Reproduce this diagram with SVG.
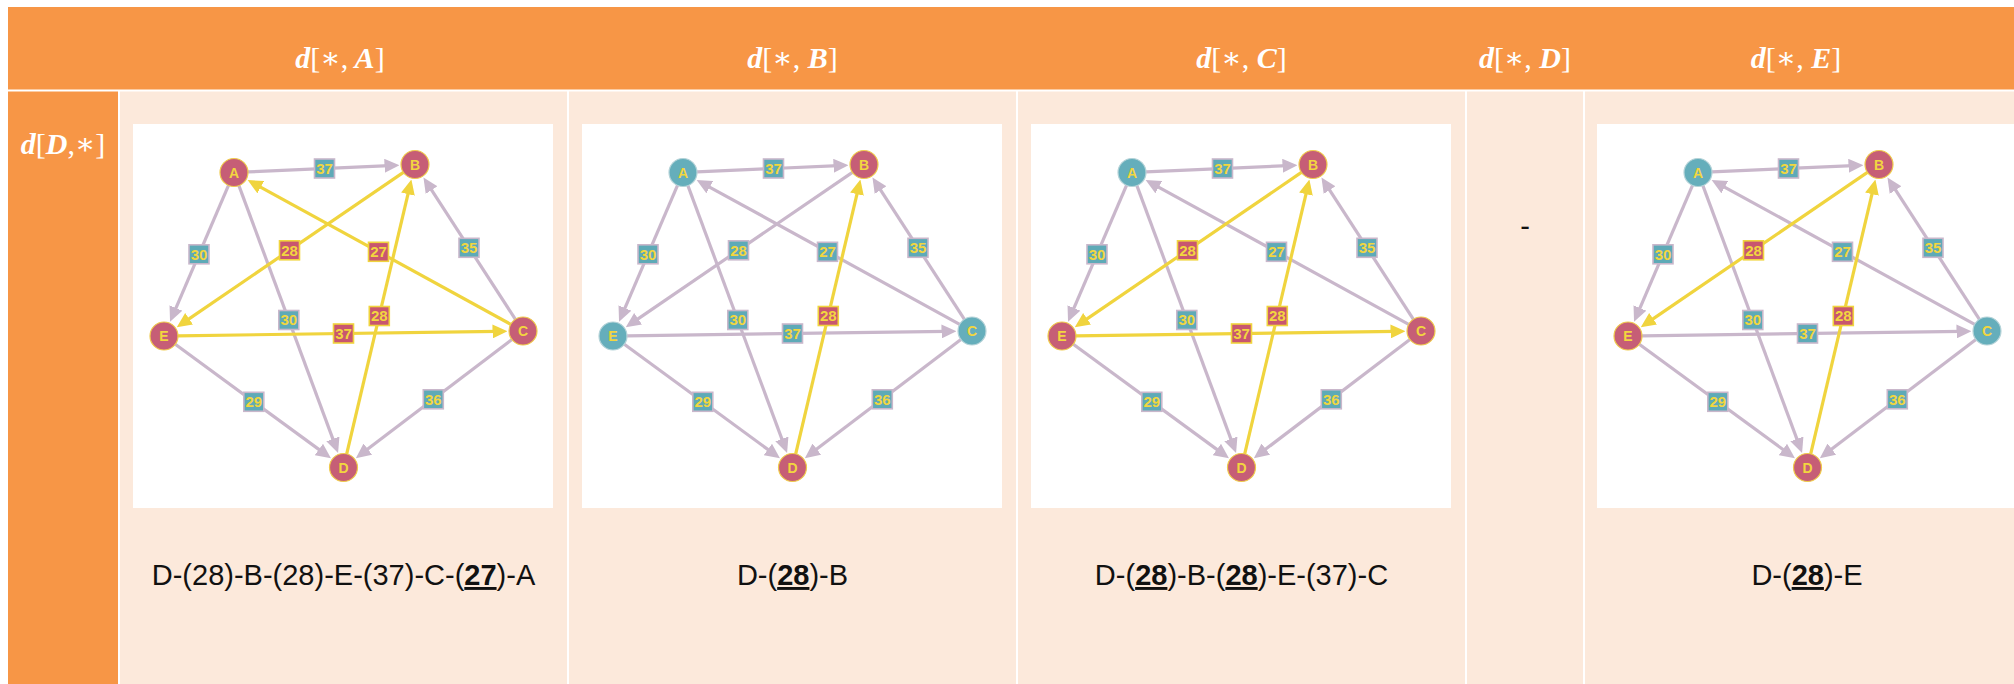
<svg xmlns="http://www.w3.org/2000/svg" width="2014" height="684" viewBox="0 0 2014 684">
<defs>
<style>
.hd{fill:#F79646}
.pc{fill:#FCE9DB}
.grid{stroke:#FFFFFF;stroke-width:2}
.mh{font-family:"Liberation Serif","DejaVu Serif",serif;font-size:30px;fill:#FFFFFF;text-anchor:middle}
.bi{font-weight:bold;font-style:italic}
.pt{font-family:"Liberation Sans",Arial,sans-serif;font-size:29px;fill:#111111;text-anchor:middle}
.ul{font-weight:bold;text-decoration:underline}
.box{fill:#FFFFFF}
.g{stroke:#C9B7CB;stroke-width:3.2;fill:none;marker-end:url(#ag)}
.y{stroke:#F0D43E;stroke-width:3.2;fill:none;marker-end:url(#ay)}
.lt{fill:#5EAAB7;stroke:#C9B7CB;stroke-width:1.6}
.lr{fill:#C8566F;stroke:#F0D43E;stroke-width:1.6}
.lx{font-family:"Liberation Sans",Arial,sans-serif;font-weight:bold;font-size:15px;fill:#F2D63F;text-anchor:middle}
.nr{fill:#C65E76;stroke:#EFCB4C;stroke-width:1.2}
.nt{fill:#65AEBB;stroke:#B5D3D8;stroke-width:1.2}
.nx{font-family:"Liberation Sans",Arial,sans-serif;font-weight:bold;font-size:14px;fill:#F2D63F;text-anchor:middle}
</style>
<marker id="ag" markerUnits="userSpaceOnUse" markerWidth="15" markerHeight="14" refX="5" refY="7" orient="auto"><path d="M0,0 L15,7 L0,14 z" fill="#C9B7CB"/></marker>
<marker id="ay" markerUnits="userSpaceOnUse" markerWidth="15" markerHeight="14" refX="5" refY="7" orient="auto"><path d="M0,0 L15,7 L0,14 z" fill="#F0D43E"/></marker>
</defs>
<rect width="2014" height="684" fill="#FFFFFF"/>
<g id="table">
<rect class="hd" x="8" y="7" width="2006" height="83"/>
<rect class="hd" x="8" y="91" width="110" height="593"/>
<rect class="pc" x="120" y="91" width="447" height="593"/>
<rect class="pc" x="569" y="91" width="447" height="593"/>
<rect class="pc" x="1018" y="91" width="447" height="593"/>
<rect class="pc" x="1467" y="91" width="116" height="593"/>
<rect class="pc" x="1585" y="91" width="429" height="593"/>
<line class="grid" x1="8" y1="90.5" x2="2014" y2="90.5"/>
</g>
<g id="headers">
<text class="mh" x="340" y="68"><tspan class="bi">d</tspan>[∗,<tspan class="bi"> A</tspan>]</text>
<text class="mh" x="792.5" y="68"><tspan class="bi">d</tspan>[∗,<tspan class="bi"> B</tspan>]</text>
<text class="mh" x="1241.5" y="68"><tspan class="bi">d</tspan>[∗,<tspan class="bi"> C</tspan>]</text>
<text class="mh" x="1525" y="68"><tspan class="bi">d</tspan>[∗,<tspan class="bi"> D</tspan>]</text>
<text class="mh" x="1796" y="68"><tspan class="bi">d</tspan>[∗,<tspan class="bi"> E</tspan>]</text>
<text class="mh" x="63" y="154"><tspan class="bi">d</tspan>[<tspan class="bi">D</tspan>,∗]</text>
</g>

<g id="cellA" transform="translate(133,124)">
<rect class="box" width="420" height="384"/>
<g id="A-connectors">
<path class="g" d="M115,47.9 L256.5,41.6"/>
<path class="g" d="M95.5,61.4 L41,188.6"/>
<path class="g" d="M105.9,61.6 L201.6,319.6"/>
<path class="g" d="M382.4,195.3 L295.9,61.9"/>
<path class="g" d="M42.3,220.3 L189.9,328.4"/>
<path class="g" d="M378.9,215.5 L230.8,328.1"/>
<path class="y" d="M270.4,48.4 L52,197.6"/>
<path class="y" d="M377.7,200.3 L123.4,60.8"/>
<path class="y" d="M213.7,329.9 L276.1,65.3"/>
<path class="y" d="M45,211.8 L364.5,207.4"/>
<rect class="lt" x="181.5" y="35" width="20" height="19"/><text class="lx" x="191.5" y="49.8">37</text>
<rect class="lt" x="56" y="120.8" width="20" height="19"/><text class="lx" x="66" y="135.6">30</text>
<rect class="lt" x="145.8" y="186.5" width="20" height="19"/><text class="lx" x="155.8" y="201.3">30</text>
<rect class="lr" x="146.5" y="116.8" width="20" height="19"/><text class="lx" x="156.5" y="131.6">28</text>
<rect class="lr" x="235.5" y="118.3" width="20" height="19"/><text class="lx" x="245.5" y="133.1">27</text>
<rect class="lt" x="326" y="114.3" width="20" height="19"/><text class="lx" x="336" y="129.1">35</text>
<rect class="lr" x="236.3" y="182.5" width="20" height="19"/><text class="lx" x="246.3" y="197.3">28</text>
<rect class="lr" x="200.5" y="200" width="20" height="19"/><text class="lx" x="210.5" y="214.8">37</text>
<rect class="lt" x="110.8" y="268.3" width="20" height="19"/><text class="lx" x="120.8" y="283.1">29</text>
<rect class="lt" x="290.3" y="265.8" width="20" height="19"/><text class="lx" x="300.3" y="280.6">36</text>
</g>
<g id="A-nodeA"><circle class="nr" cx="101" cy="48.5" r="14"/><text class="nx" x="101" y="53.5">A</text></g>
<g id="A-nodeB"><circle class="nr" cx="282" cy="40.5" r="14"/><text class="nx" x="282" y="45.5">B</text></g>
<g id="A-nodeC"><circle class="nr" cx="390" cy="207" r="14"/><text class="nx" x="390" y="212">C</text></g>
<g id="A-nodeD"><circle class="nr" cx="210.5" cy="343.5" r="14"/><text class="nx" x="210.5" y="348.5">D</text></g>
<g id="A-nodeE"><circle class="nr" cx="31" cy="212" r="14"/><text class="nx" x="31" y="217">E</text></g>
</g>

<g id="cellB" transform="translate(582,124)">
<rect class="box" width="420" height="384"/>
<g id="B-connectors">
<path class="g" d="M115,47.9 L256.5,41.6"/>
<path class="g" d="M95.5,61.4 L41,188.6"/>
<path class="g" d="M105.9,61.6 L201.6,319.6"/>
<path class="g" d="M270.4,48.4 L52,197.6"/>
<path class="g" d="M377.7,200.3 L123.4,60.8"/>
<path class="g" d="M382.4,195.3 L295.9,61.9"/>
<path class="g" d="M45,211.8 L364.5,207.4"/>
<path class="g" d="M42.3,220.3 L189.9,328.4"/>
<path class="g" d="M378.9,215.5 L230.8,328.1"/>
<path class="y" d="M213.7,329.9 L276.1,65.3"/>
<rect class="lt" x="181.5" y="35" width="20" height="19"/><text class="lx" x="191.5" y="49.8">37</text>
<rect class="lt" x="56" y="120.8" width="20" height="19"/><text class="lx" x="66" y="135.6">30</text>
<rect class="lt" x="145.8" y="186.5" width="20" height="19"/><text class="lx" x="155.8" y="201.3">30</text>
<rect class="lt" x="146.5" y="116.8" width="20" height="19"/><text class="lx" x="156.5" y="131.6">28</text>
<rect class="lt" x="235.5" y="118.3" width="20" height="19"/><text class="lx" x="245.5" y="133.1">27</text>
<rect class="lt" x="326" y="114.3" width="20" height="19"/><text class="lx" x="336" y="129.1">35</text>
<rect class="lr" x="236.3" y="182.5" width="20" height="19"/><text class="lx" x="246.3" y="197.3">28</text>
<rect class="lt" x="200.5" y="200" width="20" height="19"/><text class="lx" x="210.5" y="214.8">37</text>
<rect class="lt" x="110.8" y="268.3" width="20" height="19"/><text class="lx" x="120.8" y="283.1">29</text>
<rect class="lt" x="290.3" y="265.8" width="20" height="19"/><text class="lx" x="300.3" y="280.6">36</text>
</g>
<g id="B-nodeA"><circle class="nt" cx="101" cy="48.5" r="14"/><text class="nx" x="101" y="53.5">A</text></g>
<g id="B-nodeB"><circle class="nr" cx="282" cy="40.5" r="14"/><text class="nx" x="282" y="45.5">B</text></g>
<g id="B-nodeC"><circle class="nt" cx="390" cy="207" r="14"/><text class="nx" x="390" y="212">C</text></g>
<g id="B-nodeD"><circle class="nr" cx="210.5" cy="343.5" r="14"/><text class="nx" x="210.5" y="348.5">D</text></g>
<g id="B-nodeE"><circle class="nt" cx="31" cy="212" r="14"/><text class="nx" x="31" y="217">E</text></g>
</g>

<g id="cellC" transform="translate(1031,124)">
<rect class="box" width="420" height="384"/>
<g id="C-connectors">
<path class="g" d="M115,47.9 L256.5,41.6"/>
<path class="g" d="M95.5,61.4 L41,188.6"/>
<path class="g" d="M105.9,61.6 L201.6,319.6"/>
<path class="g" d="M377.7,200.3 L123.4,60.8"/>
<path class="g" d="M382.4,195.3 L295.9,61.9"/>
<path class="g" d="M42.3,220.3 L189.9,328.4"/>
<path class="g" d="M378.9,215.5 L230.8,328.1"/>
<path class="y" d="M270.4,48.4 L52,197.6"/>
<path class="y" d="M213.7,329.9 L276.1,65.3"/>
<path class="y" d="M45,211.8 L364.5,207.4"/>
<rect class="lt" x="181.5" y="35" width="20" height="19"/><text class="lx" x="191.5" y="49.8">37</text>
<rect class="lt" x="56" y="120.8" width="20" height="19"/><text class="lx" x="66" y="135.6">30</text>
<rect class="lt" x="145.8" y="186.5" width="20" height="19"/><text class="lx" x="155.8" y="201.3">30</text>
<rect class="lr" x="146.5" y="116.8" width="20" height="19"/><text class="lx" x="156.5" y="131.6">28</text>
<rect class="lt" x="235.5" y="118.3" width="20" height="19"/><text class="lx" x="245.5" y="133.1">27</text>
<rect class="lt" x="326" y="114.3" width="20" height="19"/><text class="lx" x="336" y="129.1">35</text>
<rect class="lr" x="236.3" y="182.5" width="20" height="19"/><text class="lx" x="246.3" y="197.3">28</text>
<rect class="lr" x="200.5" y="200" width="20" height="19"/><text class="lx" x="210.5" y="214.8">37</text>
<rect class="lt" x="110.8" y="268.3" width="20" height="19"/><text class="lx" x="120.8" y="283.1">29</text>
<rect class="lt" x="290.3" y="265.8" width="20" height="19"/><text class="lx" x="300.3" y="280.6">36</text>
</g>
<g id="C-nodeA"><circle class="nt" cx="101" cy="48.5" r="14"/><text class="nx" x="101" y="53.5">A</text></g>
<g id="C-nodeB"><circle class="nr" cx="282" cy="40.5" r="14"/><text class="nx" x="282" y="45.5">B</text></g>
<g id="C-nodeC"><circle class="nr" cx="390" cy="207" r="14"/><text class="nx" x="390" y="212">C</text></g>
<g id="C-nodeD"><circle class="nr" cx="210.5" cy="343.5" r="14"/><text class="nx" x="210.5" y="348.5">D</text></g>
<g id="C-nodeE"><circle class="nr" cx="31" cy="212" r="14"/><text class="nx" x="31" y="217">E</text></g>
</g>

<g id="cellE" transform="translate(1597,124)">
<rect class="box" width="420" height="384"/>
<g id="E-connectors">
<path class="g" d="M115,47.9 L256.5,41.6"/>
<path class="g" d="M95.5,61.4 L41,188.6"/>
<path class="g" d="M105.9,61.6 L201.6,319.6"/>
<path class="g" d="M377.7,200.3 L123.4,60.8"/>
<path class="g" d="M382.4,195.3 L295.9,61.9"/>
<path class="g" d="M45,211.8 L364.5,207.4"/>
<path class="g" d="M42.3,220.3 L189.9,328.4"/>
<path class="g" d="M378.9,215.5 L230.8,328.1"/>
<path class="y" d="M270.4,48.4 L52,197.6"/>
<path class="y" d="M213.7,329.9 L276.1,65.3"/>
<rect class="lt" x="181.5" y="35" width="20" height="19"/><text class="lx" x="191.5" y="49.8">37</text>
<rect class="lt" x="56" y="120.8" width="20" height="19"/><text class="lx" x="66" y="135.6">30</text>
<rect class="lt" x="145.8" y="186.5" width="20" height="19"/><text class="lx" x="155.8" y="201.3">30</text>
<rect class="lr" x="146.5" y="116.8" width="20" height="19"/><text class="lx" x="156.5" y="131.6">28</text>
<rect class="lt" x="235.5" y="118.3" width="20" height="19"/><text class="lx" x="245.5" y="133.1">27</text>
<rect class="lt" x="326" y="114.3" width="20" height="19"/><text class="lx" x="336" y="129.1">35</text>
<rect class="lr" x="236.3" y="182.5" width="20" height="19"/><text class="lx" x="246.3" y="197.3">28</text>
<rect class="lt" x="200.5" y="200" width="20" height="19"/><text class="lx" x="210.5" y="214.8">37</text>
<rect class="lt" x="110.8" y="268.3" width="20" height="19"/><text class="lx" x="120.8" y="283.1">29</text>
<rect class="lt" x="290.3" y="265.8" width="20" height="19"/><text class="lx" x="300.3" y="280.6">36</text>
</g>
<g id="E-nodeA"><circle class="nt" cx="101" cy="48.5" r="14"/><text class="nx" x="101" y="53.5">A</text></g>
<g id="E-nodeB"><circle class="nr" cx="282" cy="40.5" r="14"/><text class="nx" x="282" y="45.5">B</text></g>
<g id="E-nodeC"><circle class="nt" cx="390" cy="207" r="14"/><text class="nx" x="390" y="212">C</text></g>
<g id="E-nodeD"><circle class="nr" cx="210.5" cy="343.5" r="14"/><text class="nx" x="210.5" y="348.5">D</text></g>
<g id="E-nodeE"><circle class="nr" cx="31" cy="212" r="14"/><text class="nx" x="31" y="217">E</text></g>
</g>

<g id="paths">
<text class="pt" x="343.5" y="585">D-(28)-B-(28)-E-(37)-C-(<tspan class="ul">27</tspan>)-A</text>
<text class="pt" x="792.5" y="585">D-(<tspan class="ul">28</tspan>)-B</text>
<text class="pt" x="1241.5" y="585">D-(<tspan class="ul">28</tspan>)-B-(<tspan class="ul">28</tspan>)-E-(37)-C</text>
<text class="pt" x="1525" y="236">-</text>
<text class="pt" x="1807" y="585">D-(<tspan class="ul">28</tspan>)-E</text>
</g>
</svg>
